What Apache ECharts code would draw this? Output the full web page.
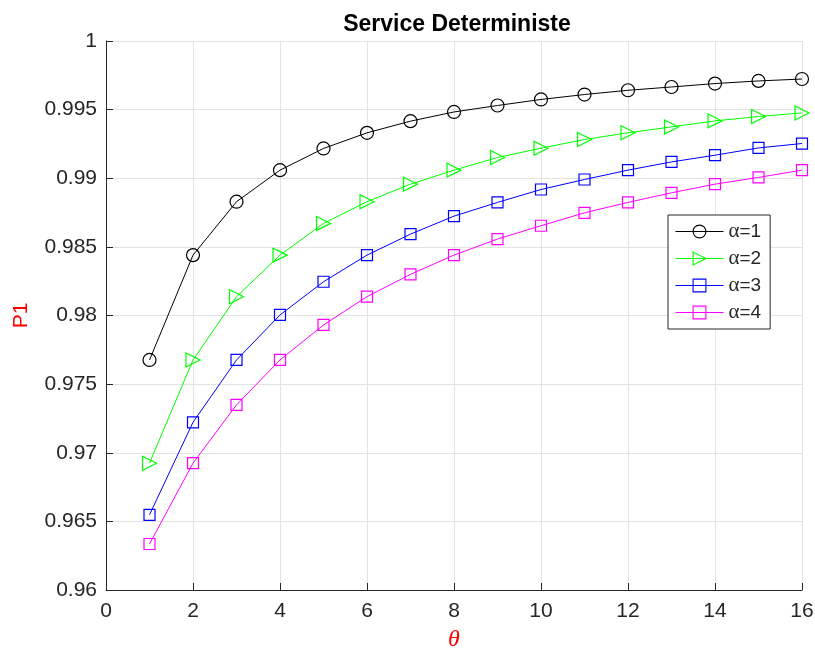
<!DOCTYPE html>
<html>
<head>
<meta charset="utf-8">
<title>Service Deterministe</title>
<script src="https://cdn.jsdelivr.net/npm/echarts@6/dist/echarts.min.js"></script>
<style>
  html, body { margin: 0; padding: 0; background: #fff; }
  #chart { width: 815px; height: 653px; }
</style>
</head>
<body>
<div id="chart"></div>
<script>
// theta values on the x axis
const theta = [1, 2, 3, 4, 5, 6, 7, 8, 9, 10, 11, 12, 13, 14, 15, 16];

// P1 for each alpha
const alpha1 = [0.97676, 0.98440, 0.98829, 0.99059, 0.99217, 0.99331, 0.99416, 0.99483,
                0.99530, 0.99574, 0.99610, 0.99641, 0.99665, 0.99690, 0.99709, 0.99723];
const alpha2 = [0.96924, 0.97676, 0.98137, 0.98440, 0.98671, 0.98829, 0.98957, 0.99059,
                0.99151, 0.99219, 0.99282, 0.99331, 0.99374, 0.99418, 0.99450, 0.99476];
const alpha3 = [0.96548, 0.97222, 0.97676, 0.98004, 0.98246, 0.98440, 0.98593, 0.98724,
                0.98824, 0.98918, 0.98991, 0.99059, 0.99119, 0.99168, 0.99221, 0.99253];
const alpha4 = [0.96335, 0.96924, 0.97349, 0.97676, 0.97931, 0.98137, 0.98300, 0.98440,
                0.98557, 0.98654, 0.98748, 0.98824, 0.98894, 0.98957, 0.99006, 0.99059];

const seriesNames = ['α=1', 'α=2', 'α=3', 'α=4'];

const pairs = (ys) => theta.map((t, i) => [t, ys[i]]);

function makeSeries(name, ys, color, symbol, size, rotate) {
  return {
    name: name,
    type: 'line',
    data: pairs(ys),
    symbol: symbol,
    symbolSize: size,
    symbolRotate: rotate || 0,
    showAllSymbol: true,
    lineStyle: { color: color, width: 1 },
    itemStyle: { color: 'rgba(255,255,255,0)', borderColor: color, borderWidth: 1.2 },
    emphasis: { disabled: true },
    animation: false
  };
}

const axisColor = '#262626';
const gridColor = '#e3e3e3';
const tickFont = { color: axisColor, fontSize: 21, fontFamily: 'Liberation Sans, Arial, sans-serif' };

const chart = echarts.init(document.getElementById('chart'), null, { renderer: 'canvas' });
chart.setOption({
  backgroundColor: '#ffffff',
  animation: false,
  title: {
    text: 'Service Deterministe',
    left: 452,
    textAlign: 'center',
    top: 8,
    textStyle: { fontSize: 23, fontWeight: 'bold', color: '#000', fontFamily: 'Liberation Sans, Arial, sans-serif' }
  },
  grid: { left: 106, right: 13, top: 41, bottom: 63, containLabel: false, outerBoundsMode: 'none' },
  xAxis: {
    type: 'value',
    min: 0, max: 16, interval: 2,
    name: 'θ',
    nameLocation: 'middle',
    nameGap: 38,
    nameTextStyle: { color: '#ff0000', fontSize: 24, fontStyle: 'italic', fontFamily: 'Liberation Serif, Times New Roman, serif' },
    axisLine: { show: true, onZero: false, lineStyle: { color: axisColor, width: 1 } },
    axisTick: { show: true, inside: true, length: 7, lineStyle: { color: axisColor } },
    axisLabel: Object.assign({ margin: 11 }, tickFont),
    splitLine: { show: true, lineStyle: { color: gridColor, width: 1 } }
  },
  yAxis: {
    type: 'value',
    min: 0.96, max: 1, interval: 0.005,
    name: 'P1',
    nameLocation: 'middle',
    nameGap: 74,
    nameRotate: 90,
    nameTextStyle: { color: '#ff0000', fontSize: 21, fontFamily: 'Liberation Sans, Arial, sans-serif' },
    axisLine: { show: true, onZero: false, lineStyle: { color: axisColor, width: 1 } },
    axisTick: { show: true, inside: true, length: 7, lineStyle: { color: axisColor } },
    axisLabel: Object.assign({
      margin: 9,
      formatter: (v) => String(parseFloat(v.toFixed(3)))
    }, tickFont),
    splitLine: { show: true, lineStyle: { color: gridColor, width: 1 } }
  },
  legend: {
    data: seriesNames,
    orient: 'vertical',
    left: 668,
    top: 215,
    width: 102,
    padding: [6, 9, 6, 7],
    itemWidth: 48,
    itemHeight: 16,
    itemGap: 6,
    backgroundColor: '#ffffff',
    borderColor: axisColor,
    borderWidth: 1,
    borderRadius: 0,
    selectedMode: false,
    itemStyle: { color: 'rgba(255,255,255,0)', borderColor: 'inherit', borderWidth: 1.1 },
    lineStyle: { width: 1 },
    formatter: (name) => '{g|α}{t|' + name.slice(1) + '}',
    textStyle: {
      color: axisColor,
      lineHeight: 20,
      rich: {
        g: { fontSize: 21, fontFamily: 'Liberation Serif, Times New Roman, serif', color: axisColor },
        t: { fontSize: 19, fontFamily: 'Liberation Sans, Arial, sans-serif', color: axisColor }
      }
    }
  },
  series: [
    makeSeries(seriesNames[0], alpha1, '#000000', 'circle', 13),
    makeSeries(seriesNames[1], alpha2, '#00ff00', 'triangle', 14, -90),
    makeSeries(seriesNames[2], alpha3, '#0000ff', 'rect', 11),
    makeSeries(seriesNames[3], alpha4, '#ff00ff', 'rect', 11)
  ]
});
</script>
</body>
</html>
